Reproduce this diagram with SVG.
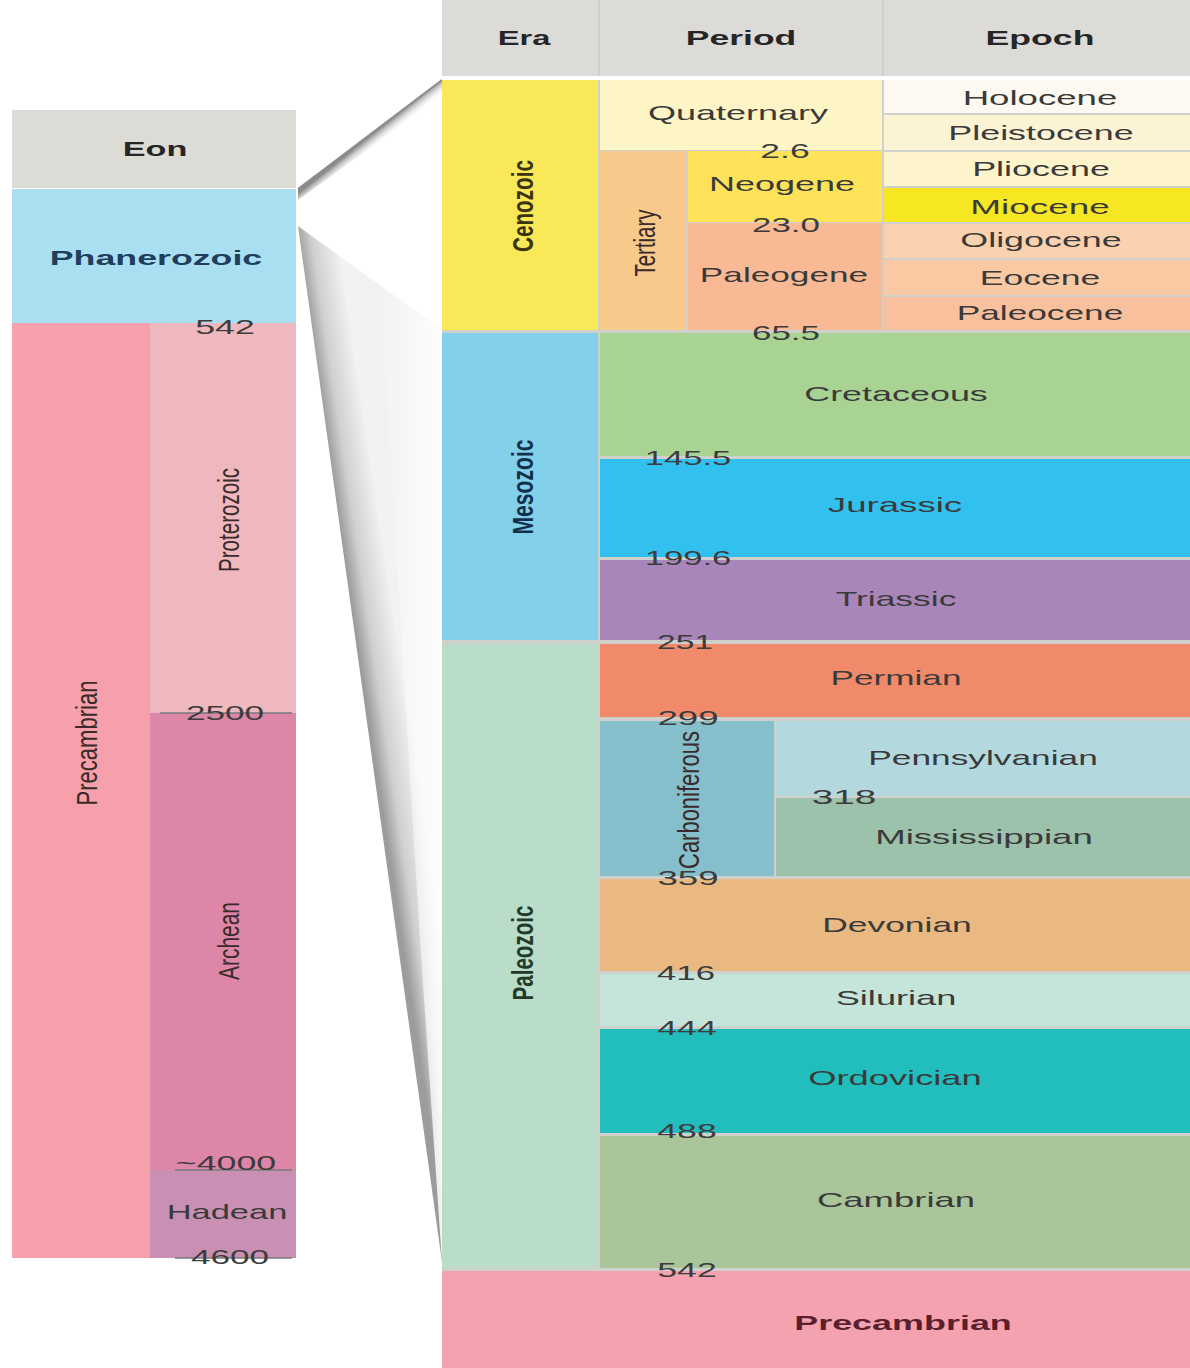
<svg xmlns="http://www.w3.org/2000/svg" width="1190" height="1368" viewBox="0 0 1190 1368">
<style>
text{font-family:"Liberation Sans",Arial,sans-serif;text-anchor:middle;dominant-baseline:central}
.h{font-size:20px;font-weight:bold;fill:#262626}
.l{font-size:20px;fill:#3a3a3a}
.d{font-size:20px;fill:#3c3c3c}
.v{font-size:19px;fill:#3a2a2a}
.b{font-weight:bold}
.tick{stroke:#7a7a7a;stroke-width:1.5}
</style>
<defs>
<linearGradient id="fold" gradientUnits="userSpaceOnUse" x1="370" y1="726" x2="410" y2="720">
<stop offset="0" stop-color="#9c9c9c"/>
<stop offset="0.35" stop-color="#cfcfcf"/>
<stop offset="1" stop-color="#f2f2f2"/>
</linearGradient>
<linearGradient id="foldfade" x1="0" y1="0" x2="1" y2="0">
<stop offset="0" stop-color="#ffffff" stop-opacity="0"/>
<stop offset="1" stop-color="#ffffff" stop-opacity="0.9"/>
</linearGradient>
<linearGradient id="topsh" gradientUnits="userSpaceOnUse" x1="370" y1="136" x2="378" y2="146">
<stop offset="0" stop-color="#8a8a8a"/>
<stop offset="1" stop-color="#ffffff" stop-opacity="0"/>
</linearGradient>
</defs>
<rect width="1190" height="1368" fill="#ffffff"/>

<g id="connectors">
<polygon points="298,226 442,330 442,1262" fill="url(#fold)"/>
<polygon points="380,286 442,330 442,1262 420,940" fill="url(#foldfade)"/>
<polygon points="298,189 442,80 442,96 298,200" fill="url(#topsh)"/>
<line x1="298" y1="189" x2="442" y2="80" stroke="#8c8c8c" stroke-width="2"/>
</g>

<g id="left-column">
<g id="eon-header"><rect x="12" y="110" width="284" height="78" fill="#dcdbd6"/><text class="h" transform="translate(155,149) scale(1.7,1)" textLength="38" lengthAdjust="spacingAndGlyphs">Eon</text></g>
<g id="phanerozoic"><rect x="12" y="189" width="284" height="134" fill="#aadff2"/><text class="h" transform="translate(156,258) scale(1.7,1)" style="fill:#1f3d5c" textLength="125" lengthAdjust="spacingAndGlyphs">Phanerozoic</text></g>
<g id="precambrian-eon"><rect x="12" y="323" width="138" height="935" fill="#f5a0aa"/><text class="v" transform="translate(86,743) rotate(-90) scale(1,1.6)" textLength="125" lengthAdjust="spacingAndGlyphs">Precambrian</text></g>
<g id="proterozoic"><rect x="150" y="323" width="146" height="390" fill="#efb8be"/><text class="v" transform="translate(228,520) rotate(-90) scale(1,1.6)" textLength="104" lengthAdjust="spacingAndGlyphs">Proterozoic</text></g>
<g id="archean"><rect x="150" y="713" width="146" height="457" fill="#dd86a8"/><text class="v" transform="translate(228,941) rotate(-90) scale(1,1.6)" textLength="78" lengthAdjust="spacingAndGlyphs">Archean</text></g>
<g id="hadean"><rect x="150" y="1170" width="146" height="88" fill="#c990b4"/><text class="l" transform="translate(227,1212) scale(1.7,1)" textLength="71" lengthAdjust="spacingAndGlyphs">Hadean</text></g>
<line class="tick" x1="160" y1="713" x2="292" y2="713"/>
<line class="tick" x1="175" y1="1170" x2="292" y2="1170"/>
<line class="tick" x1="175" y1="1258" x2="292" y2="1258"/>
<text class="d" transform="translate(225,327) scale(1.7,1)" textLength="35" lengthAdjust="spacingAndGlyphs">542</text>
<text class="d" transform="translate(225,713) scale(1.7,1)" textLength="46" lengthAdjust="spacingAndGlyphs">2500</text>
<text class="d" transform="translate(226,1163) scale(1.7,1)" textLength="59" lengthAdjust="spacingAndGlyphs">~4000</text>
<text class="d" transform="translate(230,1257) scale(1.7,1)" textLength="46" lengthAdjust="spacingAndGlyphs">4600</text>
</g>

<g id="right-table">
<rect x="442" y="0" width="748" height="1368" fill="#cfd0cc"/>
<g id="header">
<rect x="442" y="0" width="156" height="76" fill="#dcdbd8"/>
<rect x="600" y="0" width="282" height="76" fill="#dcdbd8"/>
<rect x="884" y="0" width="306" height="76" fill="#dcdbd8"/>
<text class="h" transform="translate(524,38) scale(1.7,1)" textLength="31" lengthAdjust="spacingAndGlyphs">Era</text>
<text class="h" transform="translate(741,38) scale(1.7,1)" textLength="65" lengthAdjust="spacingAndGlyphs">Period</text>
<text class="h" transform="translate(1040,38) scale(1.7,1)" textLength="64" lengthAdjust="spacingAndGlyphs">Epoch</text>
</g>
<rect x="442" y="76" width="748" height="4" fill="#ffffff"/>

<g id="cenozoic"><rect x="442" y="80" width="156" height="250" fill="#f9e858"/><text class="v b" transform="translate(522,206) rotate(-90) scale(1,1.6)" style="fill:#3a3410" textLength="92" lengthAdjust="spacingAndGlyphs">Cenozoic</text></g>
<g id="quaternary"><rect x="600" y="80" width="282" height="70" fill="#fdf5c6"/><text class="l" transform="translate(738,113) scale(1.7,1)" textLength="106" lengthAdjust="spacingAndGlyphs">Quaternary</text></g>
<g id="tertiary"><rect x="600" y="151" width="86" height="179" fill="#f7c98a"/><text class="v" transform="translate(644,243) rotate(-90) scale(1,1.6)" textLength="67" lengthAdjust="spacingAndGlyphs">Tertiary</text></g>
<g id="neogene"><rect x="688" y="151" width="194" height="71" fill="#fde25a"/><text class="l" transform="translate(782,184) scale(1.7,1)" textLength="86" lengthAdjust="spacingAndGlyphs">Neogene</text></g>
<g id="paleogene"><rect x="688" y="223" width="194" height="107" fill="#f8b994"/><text class="l" transform="translate(784,275) scale(1.7,1)" textLength="99" lengthAdjust="spacingAndGlyphs">Paleogene</text></g>
<g id="holocene"><rect x="884" y="80" width="306" height="33" fill="#fdf9f0"/><text class="l" transform="translate(1040,98) scale(1.7,1)" textLength="91" lengthAdjust="spacingAndGlyphs">Holocene</text></g>
<g id="pleistocene"><rect x="884" y="115" width="306" height="35" fill="#fcf2d4"/><text class="l" transform="translate(1041,133) scale(1.7,1)" textLength="109" lengthAdjust="spacingAndGlyphs">Pleistocene</text></g>
<g id="pliocene"><rect x="884" y="152" width="306" height="34" fill="#fdf4cc"/><text class="l" transform="translate(1041,169) scale(1.7,1)" textLength="81" lengthAdjust="spacingAndGlyphs">Pliocene</text></g>
<g id="miocene"><rect x="884" y="188" width="306" height="34" fill="#f7e622"/><text class="l" transform="translate(1040,207) scale(1.7,1)" textLength="82" lengthAdjust="spacingAndGlyphs">Miocene</text></g>
<g id="oligocene"><rect x="884" y="224" width="306" height="34" fill="#fad2b0"/><text class="l" transform="translate(1041,240) scale(1.7,1)" textLength="95" lengthAdjust="spacingAndGlyphs">Oligocene</text></g>
<g id="eocene"><rect x="884" y="260" width="306" height="35" fill="#f9c9a4"/><text class="l" transform="translate(1040,278) scale(1.7,1)" textLength="71" lengthAdjust="spacingAndGlyphs">Eocene</text></g>
<g id="paleocene"><rect x="884" y="297" width="306" height="33" fill="#f8c09c"/><text class="l" transform="translate(1040,313) scale(1.7,1)" textLength="98" lengthAdjust="spacingAndGlyphs">Paleocene</text></g>

<g id="mesozoic"><rect x="442" y="333" width="156" height="307" fill="#82d0ea"/><text class="v b" transform="translate(522,487) rotate(-90) scale(1,1.6)" style="fill:#13304a" textLength="95" lengthAdjust="spacingAndGlyphs">Mesozoic</text></g>
<g id="cretaceous"><rect x="600" y="333" width="590" height="123" fill="#a9d392"/><text class="l" transform="translate(896,394) scale(1.7,1)" textLength="108" lengthAdjust="spacingAndGlyphs">Cretaceous</text></g>
<g id="jurassic"><rect x="600" y="459" width="590" height="98" fill="#32c1ee"/><text class="l" transform="translate(895,505) scale(1.7,1)" textLength="79" lengthAdjust="spacingAndGlyphs">Jurassic</text></g>
<g id="triassic"><rect x="600" y="560" width="590" height="80" fill="#a986b9"/><text class="l" transform="translate(896,599) scale(1.7,1)" textLength="71" lengthAdjust="spacingAndGlyphs">Triassic</text></g>

<g id="paleozoic"><rect x="442" y="644" width="156" height="624" fill="#b9ddc9"/><text class="v b" transform="translate(522,953) rotate(-90) scale(1,1.6)" style="fill:#233a2a" textLength="95" lengthAdjust="spacingAndGlyphs">Paleozoic</text></g>
<g id="permian"><rect x="600" y="644" width="590" height="73" fill="#f08a6a"/><text class="l" transform="translate(896,678) scale(1.7,1)" textLength="77" lengthAdjust="spacingAndGlyphs">Permian</text></g>
<g id="carboniferous"><rect x="600" y="721" width="174" height="155" fill="#84bfcb"/><text class="v" transform="translate(688,800) rotate(-90) scale(1,1.6)" textLength="138" lengthAdjust="spacingAndGlyphs">Carboniferous</text></g>
<g id="pennsylvanian"><rect x="776" y="721" width="414" height="75" fill="#b3d9df"/><text class="l" transform="translate(983,758) scale(1.7,1)" textLength="135" lengthAdjust="spacingAndGlyphs">Pennsylvanian</text></g>
<g id="mississippian"><rect x="776" y="798" width="414" height="78" fill="#9cc2ab"/><text class="l" transform="translate(984,837) scale(1.7,1)" textLength="128" lengthAdjust="spacingAndGlyphs">Mississippian</text></g>
<g id="devonian"><rect x="600" y="879" width="590" height="92" fill="#e9b981"/><text class="l" transform="translate(897,925) scale(1.7,1)" textLength="88" lengthAdjust="spacingAndGlyphs">Devonian</text></g>
<g id="silurian"><rect x="600" y="974" width="590" height="52" fill="#c6e5da"/><text class="l" transform="translate(896,998) scale(1.7,1)" textLength="71" lengthAdjust="spacingAndGlyphs">Silurian</text></g>
<g id="ordovician"><rect x="600" y="1029" width="590" height="104" fill="#22bdbd"/><text class="l" transform="translate(895,1078) scale(1.7,1)" textLength="102" lengthAdjust="spacingAndGlyphs">Ordovician</text></g>
<g id="cambrian"><rect x="600" y="1136" width="590" height="132" fill="#aac59a"/><text class="l" transform="translate(896,1200) scale(1.7,1)" textLength="93" lengthAdjust="spacingAndGlyphs">Cambrian</text></g>
<g id="precambrian"><rect x="442" y="1271" width="748" height="97" fill="#f5a2b0"/><text class="h" transform="translate(903,1323) scale(1.7,1)" style="fill:#5a1f2c" textLength="128" lengthAdjust="spacingAndGlyphs">Precambrian</text></g>

<g id="dates">
<text class="d" transform="translate(785,151) scale(1.7,1)" textLength="29" lengthAdjust="spacingAndGlyphs">2.6</text>
<text class="d" transform="translate(786,225) scale(1.7,1)" textLength="40" lengthAdjust="spacingAndGlyphs">23.0</text>
<text class="d" transform="translate(786,333) scale(1.7,1)" textLength="40" lengthAdjust="spacingAndGlyphs">65.5</text>
<text class="d" transform="translate(688,458) scale(1.7,1)" textLength="51" lengthAdjust="spacingAndGlyphs">145.5</text>
<text class="d" transform="translate(688,558) scale(1.7,1)" textLength="51" lengthAdjust="spacingAndGlyphs">199.6</text>
<text class="d" transform="translate(685,642) scale(1.7,1)" textLength="33" lengthAdjust="spacingAndGlyphs">251</text>
<text class="d" transform="translate(688,718) scale(1.7,1)" textLength="36" lengthAdjust="spacingAndGlyphs">299</text>
<text class="d" transform="translate(844,797) scale(1.7,1)" textLength="38" lengthAdjust="spacingAndGlyphs">318</text>
<text class="d" transform="translate(688,878) scale(1.7,1)" textLength="36" lengthAdjust="spacingAndGlyphs">359</text>
<text class="d" transform="translate(686,973) scale(1.7,1)" textLength="34" lengthAdjust="spacingAndGlyphs">416</text>
<text class="d" transform="translate(687,1028) scale(1.7,1)" textLength="35" lengthAdjust="spacingAndGlyphs">444</text>
<text class="d" transform="translate(687,1131) scale(1.7,1)" textLength="35" lengthAdjust="spacingAndGlyphs">488</text>
<text class="d" transform="translate(687,1270) scale(1.7,1)" textLength="35" lengthAdjust="spacingAndGlyphs">542</text>
</g>
</g>
</svg>
